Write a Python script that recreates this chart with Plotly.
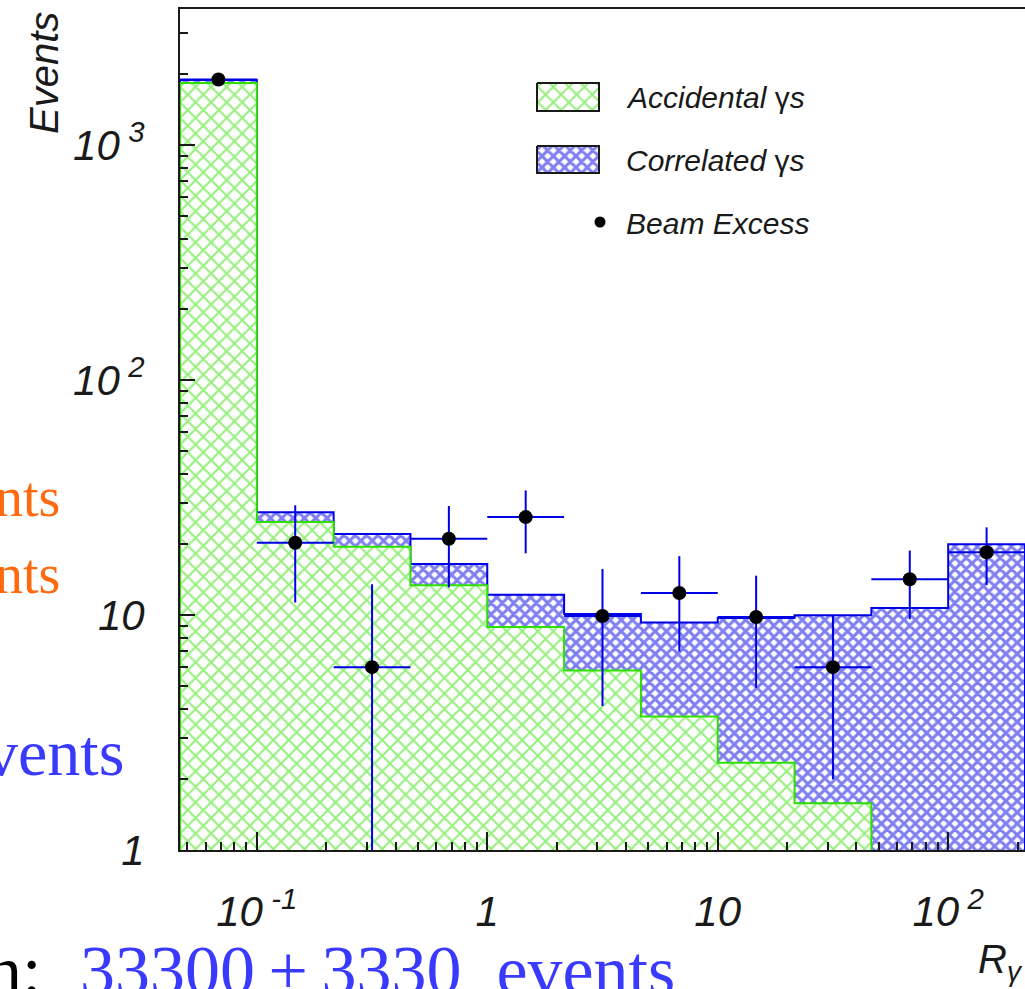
import numpy as np
import plotly.graph_objects as go

# --- histogram content -------------------------------------------------------
# 11 bins, each one third of a decade wide, from 10^(-4/3) to 10^(7/3)
edge_exponents = np.arange(-4, 8) / 3.0
bin_edges = 10.0 ** edge_exponents

accidental = [1836, 24.9, 19.5, 13.4, 8.9, 5.8, 3.7, 2.35, 1.58, 0, 0]
correlated = [54, 2.5, 2.6, 3.1, 3.3, 4.3, 5.6, 7.35, 8.4, 10.7, 20.0]
beam_excess = [1900, 20.3, 6.0, 21.1, 26.1, 9.9, 12.4, 9.8, 6.0, 14.2, 18.5]
beam_excess_err = [45, 9.0, 7.5, 8.0, 7.8, 5.8, 5.4, 4.9, 4.0, 4.6, 5.1]

x_tickvals = [0.1, 1, 10, 100]
x_ticktext = ["10\u2009<sup>-1</sup>", "1", "10", "10\u2009<sup>2</sup>"]
y_tickvals = [1, 10, 100, 1000]
y_ticktext = ["1", "10", "10\u2009<sup>2</sup>", "10\u2009<sup>3</sup>"]

legend_labels = ["<i>Accidental </i>γ<i>s</i>",
                 "<i>Correlated </i>γ<i>s</i>",
                 "<i>Beam Excess</i>"]

# --- styling -----------------------------------------------------------------
W, H = 1025, 989
L, R, T, B = 180, 0, 9, 139
GREEN = "#2ee000"
BLUE = "#0000e6"
AXIS = "#1a1a1a"
SANS = "Liberation Sans"
SERIF = "Liberation Serif"
FLOOR = 0.3  # below the visible y range, closes the step polygons

green_pattern = dict(shape="x", fgcolor=GREEN, bgcolor="white", size=11, solidity=0.34)
blue_pattern = dict(shape="x", fgcolor=BLUE, bgcolor="white", size=8, solidity=0.62)


def step_polygon(values):
    xs, ys = [bin_edges[0]], [FLOOR]
    for i, v in enumerate(values):
        v = max(v, FLOOR)
        xs += [bin_edges[i], bin_edges[i + 1]]
        ys += [v, v]
    xs.append(bin_edges[-1])
    ys.append(FLOOR)
    return xs, ys


total = [a + c for a, c in zip(accidental, correlated)]
centers = np.sqrt(bin_edges[:-1] * bin_edges[1:])

fig = go.Figure()

# stacked histogram: total (blue) underneath, accidental (green) on top
tx, ty = step_polygon(total)
fig.add_trace(go.Scatter(x=tx, y=ty, mode="lines", fill="toself",
                         fillpattern=blue_pattern, fillcolor="white",
                         line=dict(color=BLUE, width=2), hoverinfo="skip",
                         showlegend=False))
ax_, ay_ = step_polygon(accidental)
fig.add_trace(go.Scatter(x=ax_, y=ay_, mode="lines", fill="toself",
                         fillpattern=green_pattern, fillcolor="white",
                         line=dict(color=GREEN, width=2), hoverinfo="skip",
                         showlegend=False))

# data points with bin-wide horizontal bars
err_plus = list(beam_excess_err)
err_minus = [min(e, v - 0.2) for e, v in zip(beam_excess_err, beam_excess)]
fig.add_trace(go.Scatter(
    x=centers, y=beam_excess, mode="markers",
    marker=dict(color="black", size=14),
    error_x=dict(type="data", symmetric=False,
                 array=list(bin_edges[1:] - centers),
                 arrayminus=list(centers - bin_edges[:-1]),
                 color=BLUE, thickness=2, width=0),
    error_y=dict(type="data", symmetric=False, array=err_plus,
                 arrayminus=err_minus, color=BLUE, thickness=2, width=0),
    showlegend=False))

# --- legend drawn on an overlay in pixel coordinates --------------------------
legend_boxes = [(537, 599, 83, 111, green_pattern), (537, 599, 146, 173, blue_pattern)]
for x0, x1, y0, y1, pat in legend_boxes:
    fig.add_trace(go.Scatter(x=[x0, x1, x1, x0, x0], y=[y0, y0, y1, y1, y0],
                             xaxis="x2", yaxis="y2", mode="lines", fill="toself",
                             fillpattern=pat, fillcolor="white",
                             line=dict(color=AXIS, width=2), hoverinfo="skip",
                             showlegend=False))
fig.add_trace(go.Scatter(x=[600], y=[222], xaxis="x2", yaxis="y2", mode="markers",
                         marker=dict(color="black", size=11), hoverinfo="skip",
                         showlegend=False))


def px(xp):
    return (xp - L) / (W - L - R)


def py(yp):
    return (H - B - yp) / (H - T - B)


annotations = []
for label, ypix in zip(legend_labels, [97, 160, 223]):
    annotations.append(dict(x=px(624), y=py(ypix), xref="paper", yref="paper",
                            text=label, showarrow=False, xanchor="left",
                            yanchor="middle",
                            font=dict(family=SANS, size=30, color=AXIS)))

annotations += [
    dict(x=px(44), y=py(10), xref="paper", yref="paper", text="Events",
         textangle=-90, showarrow=False, xanchor="center", yanchor="top",
         font=dict(family=SANS, size=40, color=AXIS, style="italic")),
    dict(x=px(976), y=py(962), xref="paper", yref="paper",
         text="R<sub>γ</sub>", showarrow=False, xanchor="left", yanchor="middle",
         font=dict(family=SANS, size=40, color=AXIS, style="italic")),
    # slide text around the chart
    dict(x=px(62), y=py(497), xref="paper", yref="paper", text="nts",
         showarrow=False, xanchor="right", yanchor="middle",
         font=dict(family=SERIF, size=56, color="#ff6a10")),
    dict(x=px(62), y=py(574), xref="paper", yref="paper", text="nts",
         showarrow=False, xanchor="right", yanchor="middle",
         font=dict(family=SERIF, size=56, color="#ff6a10")),
    dict(x=px(126), y=py(752), xref="paper", yref="paper", text="vents",
         showarrow=False, xanchor="right", yanchor="middle",
         font=dict(family=SERIF, size=66, color="#3a3aff")),
    dict(x=px(43), y=py(970), xref="paper", yref="paper", text="n:",
         showarrow=False, xanchor="right", yanchor="middle",
         font=dict(family=SERIF, size=70, color="black")),
    dict(x=px(78), y=py(970), xref="paper", yref="paper",
         text="33300\u2009±\u20093330\u00a0\u00a0events",
         showarrow=False, xanchor="left", yanchor="middle",
         font=dict(family=SERIF, size=70, color="#3a3aff")),
]


def minor_vals(lo, hi):
    vals = []
    for d in range(-3, 5):
        for k in range(2, 10):
            v = k * 10.0 ** d
            if lo < v < hi:
                vals.append(v)
    return vals


axis_common = dict(type="log", showgrid=False, zeroline=False, showline=True,
                   linecolor=AXIS, linewidth=2, ticks="inside", tickcolor=AXIS,
                   tickwidth=2, tickmode="array",
                   tickfont=dict(family=SANS, size=42, color=AXIS, style="italic"))

fig.update_layout(
    width=W, height=H,
    margin=dict(l=L, r=R, t=T, b=B, autoexpand=False),
    paper_bgcolor="white", plot_bgcolor="white",
    showlegend=False,
    xaxis=dict(**axis_common, range=[edge_exponents[0], edge_exponents[-1]],
               tickvals=x_tickvals, ticktext=x_ticktext, ticklen=18,
               mirror=True, ticklabelstandoff=24,
               minor=dict(tickvals=minor_vals(bin_edges[0], bin_edges[-1]),
                          ticks="inside", ticklen=8, tickwidth=1.5,
                          tickcolor=AXIS)),
    yaxis=dict(**axis_common, range=[0, (H - B - T) / 235.0],
               tickvals=y_tickvals, ticktext=y_ticktext, ticklen=15,
               ticklabelstandoff=25,
               minor=dict(tickvals=minor_vals(1, 4000), ticks="inside",
                          ticklen=8, tickwidth=1.5, tickcolor=AXIS)),
    xaxis2=dict(overlaying="x", range=[L, W - R], visible=False, fixedrange=True),
    yaxis2=dict(overlaying="y", range=[H - B, T], visible=False, fixedrange=True),
    annotations=annotations,
)

fig.write_html("out.html")
